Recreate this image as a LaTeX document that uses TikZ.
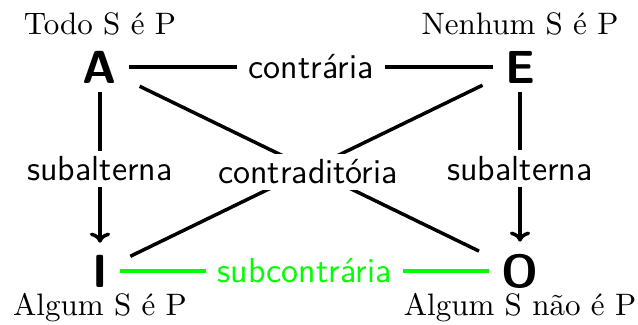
\documentclass[tikz,border=0pt]{standalone}
\usepackage{xcolor}
\usetikzlibrary{arrows.meta}
\begin{document}
\begin{tikzpicture}[x=0.3448pt,y=-0.3448pt,
  corner/.style={font=\sffamily\bfseries\fontsize{16}{18}\selectfont, inner xsep=4pt, inner ysep=0pt},
  captext/.style={font=\fontsize{10.7}{12}\selectfont, inner sep=0pt},
  rel/.style={font=\sffamily\large, fill=white, inner xsep=4pt, inner ysep=2pt},
  ln/.style={line width=1.2pt},
  arr/.style={line width=1.2pt, shorten <=3pt, shorten >=4pt, -{To[length=3.5pt,width=7pt]}}]
\useasboundingbox (0,0) rectangle (638,324);
\node[corner] (A) at (100,67) {A};
\node[corner] (E) at (520,67) {E};
\node[corner] (I) at (100,271) {I};
\node[corner] (O) at (520,271) {O};
\node[captext] (tA) at (100,24) {Todo S é P};
\node[captext] (tE) at (520,24) {Nenhum S é P};
\node[captext] (tI) at (100,308) {Algum S é P};
\node[captext] (tO) at (520,308) {Algum S não é P};
% diagonals
\draw[ln, shorten <=4pt, shorten >=4pt] (A) -- (O);
\draw[ln, shorten <=4pt, shorten >=4pt] (E) -- (I);
\node[rel] (cd) at (308,172) {contraditória};
% top
\draw[ln] (A) -- node[rel] (ct) {contrária} (E);
% bottom
\draw[ln, green] (I) -- node[rel, text=green] (sc) {subcontrária} (O);
% verticals
\draw[arr] (A) -- node[rel] (sa1) {subalterna} (I);
\draw[arr] (E) -- node[rel] (sa2) {subalterna} (O);
\end{tikzpicture}
\end{document}
